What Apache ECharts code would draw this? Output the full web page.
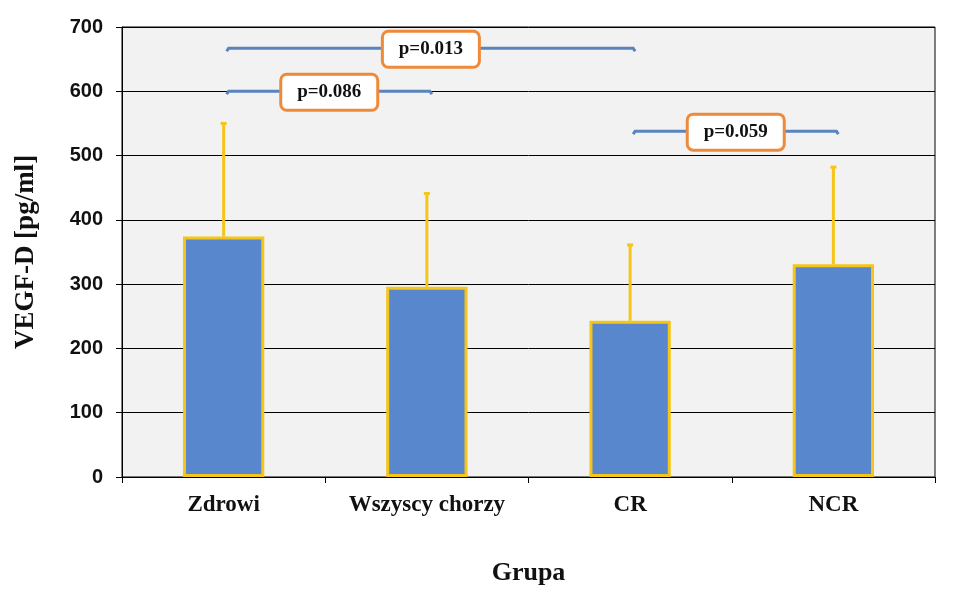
<!DOCTYPE html>
<html><head><meta charset="utf-8">
<script src="https://cdn.jsdelivr.net/npm/echarts@6/dist/echarts.min.js"></script>
<style>html,body{margin:0;padding:0;background:#fff}#c{width:969px;height:592px}</style>
</head><body><div id="c"></div>
<script>
const categories = ['Zdrowi', 'Wszyscy chorzy', 'CR', 'NCR'];
const means = [374, 296, 243, 331];
const errorTops = [550, 441, 361, 482];
const yTicks = { min: 0, max: 700, interval: 100 };
// brackets: [startCategoryIndex, endCategoryIndex, y value, label]
const brackets = [
  [0, 2, 667, 'p=0.013'],
  [0, 1, 600, 'p=0.086'],
  [2, 3, 538, 'p=0.059']
];

const chart = echarts.init(document.getElementById('c'), null, { renderer: 'canvas' });
const serif = '"Liberation Serif", "Times New Roman", serif';
const sans = '"Liberation Sans", Arial, sans-serif';

chart.setOption({
  animation: false,
  grid: { left: 122, right: 34, top: 27, bottom: 115, show: true, backgroundColor: '#f2f2f2', borderColor: '#000', borderWidth: 1 },
  xAxis: {
    type: 'category', data: categories,
    name: 'Grupa', nameLocation: 'middle', nameGap: 83,
    nameTextStyle: { fontFamily: serif, fontWeight: 'bold', fontSize: 26, color: '#111' },
    axisLine: { lineStyle: { color: '#000', width: 1 } },
    axisTick: { show: true, length: 6, interval: 0, lineStyle: { color: '#000' } },
    axisLabel: { interval: 0, hideOverlap: false, fontFamily: serif, fontWeight: 'bold', fontSize: 23, color: '#111', margin: 17 }
  },
  yAxis: {
    type: 'value', min: yTicks.min, max: yTicks.max, interval: yTicks.interval,
    name: 'VEGF-D [pg/ml]', nameLocation: 'middle', nameGap: 82,
    nameTextStyle: { fontFamily: serif, fontWeight: 'bold', fontSize: 27, color: '#111' },
    axisLine: { show: true, lineStyle: { color: '#000', width: 1 } },
    axisTick: { show: true, length: 6, lineStyle: { color: '#000' } },
    axisLabel: { fontFamily: sans, fontWeight: 'bold', fontSize: 20, color: '#111', margin: 19 },
    splitLine: { show: true, lineStyle: { color: '#000', width: 1 } }
  },
  series: [
    {
      type: 'bar', data: means, barWidth: '40%',
      itemStyle: { color: '#5887cd', borderColor: '#f5c518', borderWidth: 3 },
      z: 2
    },
    {
      type: 'custom', z: 3,
      data: errorTops.map((v, i) => [i, means[i], v]),
      renderItem: function (params, api) {
        const b = api.coord([api.value(0), api.value(1)]);
        const t = api.coord([api.value(0), api.value(2)]);
        return {
          type: 'group', children: [
            { type: 'line', shape: { x1: b[0], y1: b[1], x2: t[0], y2: t[1] }, style: { stroke: '#f5c518', lineWidth: 3 } },
            { type: 'line', shape: { x1: t[0] - 3, y1: t[1], x2: t[0] + 3, y2: t[1] }, style: { stroke: '#f5c518', lineWidth: 3 } }
          ]
        };
      }
    },
    {
      type: 'custom', z: 5,
      data: brackets,
      renderItem: function (params, api) {
        const a = api.coord([api.value(0), api.value(2)]);
        const b = api.coord([api.value(1), api.value(2)]);
        const x1 = a[0] + 3, x2 = b[0] + 5, y = a[1];
        const label = brackets[params.dataIndex][3];
        const mx = (x1 + x2) / 2;
        const w = 97, h = 36;
        return {
          type: 'group', children: [
            { type: 'polyline', shape: { points: [[x1, y + 3], [x1 + 2, y], [x2 - 2, y], [x2, y + 3]] }, style: { stroke: '#5b83bd', lineWidth: 3, fill: null } },
            { type: 'rect', shape: { x: mx - w / 2, y: y - h / 2 + 1, width: w, height: h, r: 6 }, style: { fill: '#fff', stroke: '#ee8a3a', lineWidth: 3 } },
            { type: 'text', x: mx, y: y + 1, style: { text: label, fontFamily: serif, fontWeight: 'bold', fontSize: 19, fill: '#111', align: 'center', verticalAlign: 'middle' } }
          ]
        };
      }
    }
  ]
});
</script>
</body></html>
